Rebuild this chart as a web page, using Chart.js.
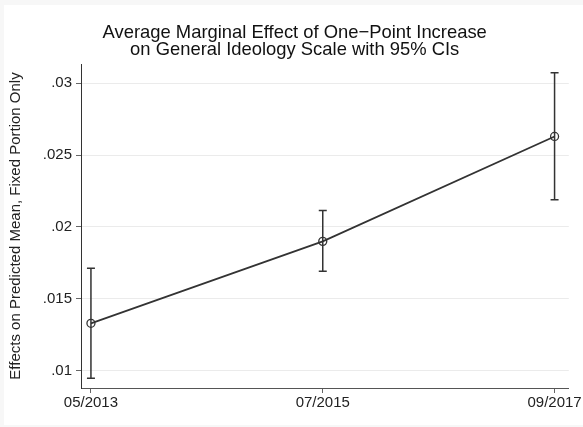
<!DOCTYPE html>
<html>
<head>
<meta charset="utf-8">
<script src="https://cdn.jsdelivr.net/npm/chart.js@4/dist/chart.umd.min.js"></script>
<style>
  html, body { margin: 0; padding: 0; background: #f7f7f7; }
  body { width: 583px; height: 427px; position: relative; overflow: hidden; }
  #wrap { position: absolute; left: 4px; top: 5px; width: 579px; height: 420px; background: #ffffff; }
  canvas { display: block; }
</style>
</head>
<body>
<div id="wrap"><canvas id="c" width="579" height="420"></canvas></div>
<script>
// Survey waves
const periods = ['05/2013', '07/2015', '09/2017'];
// Average marginal effect and 95% confidence bounds per wave
const effects = [0.0133, 0.0190, 0.0263];
const ciLower = [0.00947, 0.01692, 0.02189];
const ciUpper = [0.01713, 0.02114, 0.03074];
// Y-axis ticks and their labels
const yTicks = [0.01, 0.015, 0.02, 0.025, 0.03];
const yTickLabels = ['.01', '.015', '.02', '.025', '.03'];

const titleLines = ['Average Marginal Effect of One\u2212Point Increase', 'on General Ideology Scale with 95% CIs'];
const yTitle = 'Effects on Predicted Mean, Fixed Portion Only';

const FONT = "'Liberation Sans', Arial, Helvetica, sans-serif";
const INK = '#333333';

// Two-line heading drawn across the top of the graph region
const headingPlugin = {
  id: 'heading',
  afterDraw(chart) {
    const ctx = chart.ctx;
    ctx.save();
    ctx.fillStyle = '#111111';
    ctx.font = '18.4px ' + FONT;
    ctx.textAlign = 'center';
    ctx.textBaseline = 'alphabetic';
    ctx.fillText(titleLines[0], 290.7, 32.7);
    ctx.fillText(titleLines[1], 290.7, 50);
    ctx.restore();
  }
};

// Capped vertical confidence-interval spikes
const ciPlugin = {
  id: 'ciBars',
  afterDatasetsDraw(chart) {
    const ctx = chart.ctx;
    const xs = chart.scales.x, ys = chart.scales.y;
    ctx.save();
    ctx.strokeStyle = INK;
    ctx.lineWidth = 1.5;
    const cap = 4;
    periods.forEach((p, i) => {
      const x = xs.getPixelForValue(i);
      const yl = ys.getPixelForValue(ciLower[i]);
      const yh = ys.getPixelForValue(ciUpper[i]);
      ctx.beginPath();
      ctx.moveTo(x, yl); ctx.lineTo(x, yh);
      ctx.moveTo(x - cap, yl); ctx.lineTo(x + cap, yl);
      ctx.moveTo(x - cap, yh); ctx.lineTo(x + cap, yh);
      ctx.stroke();
    });
    ctx.restore();
  }
};

new Chart(document.getElementById('c'), {
  type: 'line',
  data: {
    datasets: [{
      data: effects.map((v, i) => ({ x: i, y: v })),
      borderColor: INK,
      borderWidth: 1.8,
      pointRadius: 4,
      pointBorderWidth: 1.3,
      pointBorderColor: INK,
      pointBackgroundColor: 'rgba(0,0,0,0)',
      tension: 0,
      fill: false
    }]
  },
  options: {
    responsive: false,
    animation: false,
    events: [],
    layout: { padding: { top: 59, right: 11, left: 0, bottom: 0 } },
    plugins: {
      legend: { display: false },
      title: { display: false },
      tooltip: { enabled: false }
    },
    scales: {
      x: {
        type: 'linear',
        min: -0.0429,
        max: 2.0613,
        afterFit(s) { s.height = 37; },
        afterBuildTicks(s) { s.ticks = periods.map((p, i) => ({ value: i })); },
        ticks: {
          autoSkip: false,
          maxRotation: 0,
          padding: 1,
          color: '#222222',
          font: { family: FONT, size: 15 },
          callback: (v) => periods[v]
        },
        grid: {
          drawOnChartArea: false,
          drawTicks: true,
          tickLength: 5,
          tickColor: '#666666',
          tickWidth: 1
        },
        border: { display: true, color: '#555555', width: 1 }
      },
      y: {
        type: 'linear',
        min: 0.008796,
        max: 0.031343,
        afterFit(s) { s.width = 77; },
        afterBuildTicks(s) { s.ticks = yTicks.map(v => ({ value: v })); },
        ticks: {
          autoSkip: false,
          padding: 4,
          color: '#222222',
          font: { family: FONT, size: 15 },
          callback: (v, i) => yTickLabels[i]
        },
        grid: {
          color: '#ebebeb',
          lineWidth: 1,
          drawTicks: true,
          tickLength: 5,
          tickColor: '#666666',
          tickWidth: 1
        },
        border: { display: true, color: '#333333', width: 1 },
        title: {
          display: true,
          text: yTitle,
          color: '#222222',
          font: { family: FONT, size: 15 },
          padding: { top: 3, bottom: 0 }
        }
      }
    }
  },
  plugins: [ciPlugin, headingPlugin]
});
</script>
</body>
</html>
